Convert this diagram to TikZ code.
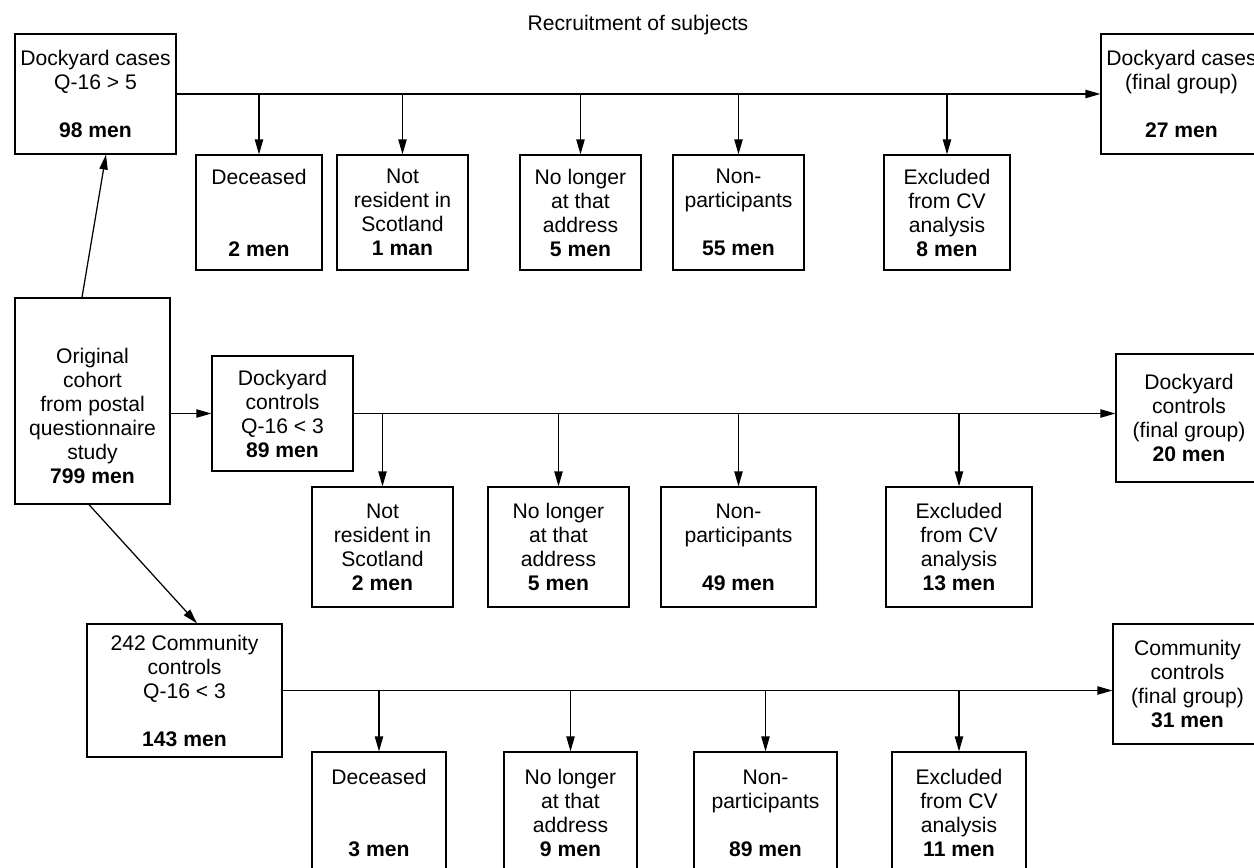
\documentclass[tikz,border=0pt]{standalone}
\usepackage{fontspec}
\setmainfont{Liberation Sans}
\usetikzlibrary{arrows.meta}

\newlength{\px}
\setlength{\px}{0.483pt}

\begin{document}
\begin{tikzpicture}[x=0.483pt, y=-0.483pt, line width=0.6pt,
  box/.style={draw, align=center, inner sep=0pt,
    font=\fontsize{10.2}{11.6}\selectfont},
  rowone/.style={box, minimum height=115\px},
  rowtwo/.style={box, minimum height=120\px},
  rowthree/.style={box, minimum height=122\px},
  flow/.style={-{Triangle[length=7.2pt,width=4pt]}}]

  % page frame, the last boxes run over the edge
  \useasboundingbox (0,0) rectangle (1254,867);
  \clip (0,0) rectangle (1254,867);

  \node[font=\fontsize{10.2}{11.6}\selectfont] (title) at (638,25) {Recruitment of subjects};

  % dockyard cases
  \node[box, minimum width=161\px, minimum height=120\px] (cases) at (95.5,94)
    {Dockyard cases\\Q-16 > 5\\\mbox{}\\\textbf{98 men}};
  \node[rowone, minimum width=126\px] (dec1) at (259,212.5)
    {Deceased\\\mbox{}\\\mbox{}\\\textbf{2 men}};
  \node[rowone, minimum width=131\px] (nres1) at (402.5,212.5)
    {Not\\resident in\\Scotland\\\textbf{1 man}};
  \node[rowone, minimum width=121\px] (nlong1) at (580.5,212.5)
    {No longer\\at that\\address\\\textbf{5 men}};
  \node[rowone, minimum width=131\px] (npart1) at (738.5,212.5)
    {Non-\\participants\\\mbox{}\\\textbf{55 men}};
  \node[rowone, minimum width=126\px] (excl1) at (947,212.5)
    {Excluded\\from CV\\analysis\\\textbf{8 men}};
  \node[box, minimum width=161\px, minimum height=120\px] (fcases) at (1181.5,94)
    {Dockyard cases\\(final group)\\\mbox{}\\\textbf{27 men}};

  % original cohort and dockyard controls
  \node[box, minimum width=155\px, minimum height=206\px] (cohort) at (92.5,401)
    {\rule{0pt}{22pt}Original\\cohort\\from postal\\questionnaire\\study\\\textbf{799 men}};
  \node[box, minimum width=141\px, minimum height=115\px] (dctrl) at (282.5,413.5)
    {Dockyard\\controls\\Q-16 < 3\\\textbf{89 men}};
  \node[rowtwo, minimum width=141\px] (nres2) at (382.5,547)
    {Not\\resident in\\Scotland\\\textbf{2 men}};
  \node[rowtwo, minimum width=141\px] (nlong2) at (558.5,547)
    {No longer\\at that\\address\\\textbf{5 men}};
  \node[rowtwo, minimum width=155\px] (npart2) at (738.5,547)
    {Non-\\participants\\\mbox{}\\\textbf{49 men}};
  \node[rowtwo, minimum width=146\px] (excl2) at (959,547)
    {Excluded\\from CV\\analysis\\\textbf{13 men}};
  \node[box, minimum width=146\px, minimum height=128\px] (fdctrl) at (1189,418)
    {Dockyard\\controls\\(final group)\\\textbf{20 men}};

  % community controls
  \node[box, minimum width=195\px, minimum height=133\px] (comm) at (184.5,690.5)
    {242 Community\\controls\\Q-16 < 3\\\mbox{}\\\textbf{143 men}};
  \node[rowthree, minimum width=134\px] (dec3) at (379,813)
    {Deceased\\\mbox{}\\\mbox{}\\\textbf{3 men}};
  \node[rowthree, minimum width=133\px] (nlong3) at (570.5,813)
    {No longer\\at that\\address\\\textbf{9 men}};
  \node[rowthree, minimum width=143\px] (npart3) at (765.5,813)
    {Non-\\participants\\\mbox{}\\\textbf{89 men}};
  \node[rowthree, minimum width=134\px] (excl3) at (959,813)
    {Excluded\\from CV\\analysis\\\textbf{11 men}};
  \node[box, minimum width=149\px, minimum height=120\px] (fcomm) at (1187.5,684)
    {Community\\controls\\(final group)\\\textbf{31 men}};

  % branches
  \draw[flow] (cases) -- (fcases);
  \foreach \n in {dec1,nres1,nlong1,npart1,excl1}
    \draw[flow] (\n.north |- cases.east) -- (\n.north);

  \draw[flow] (cohort.east |- dctrl.west) -- (dctrl.west);
  \draw[flow] (dctrl.east) -- (dctrl.east -| fdctrl.west);
  \foreach \n in {nres2,nlong2,npart2,excl2}
    \draw[flow] (\n.north |- dctrl.east) -- (\n.north);

  \draw[flow] (comm.east) -- (comm.east -| fcomm.west);
  \foreach \n in {dec3,nlong3,npart3,excl3}
    \draw[flow] (\n.north |- comm.east) -- (\n.north);

  % from the cohort up and down
  \draw[flow] ([xshift=-10.5\px]cohort.north) -- ([xshift=10.5\px]cases.south);
  \draw[flow] ([xshift=-3.5\px]cohort.south) -- ([xshift=12.5\px]comm.north);

\end{tikzpicture}
\end{document}
